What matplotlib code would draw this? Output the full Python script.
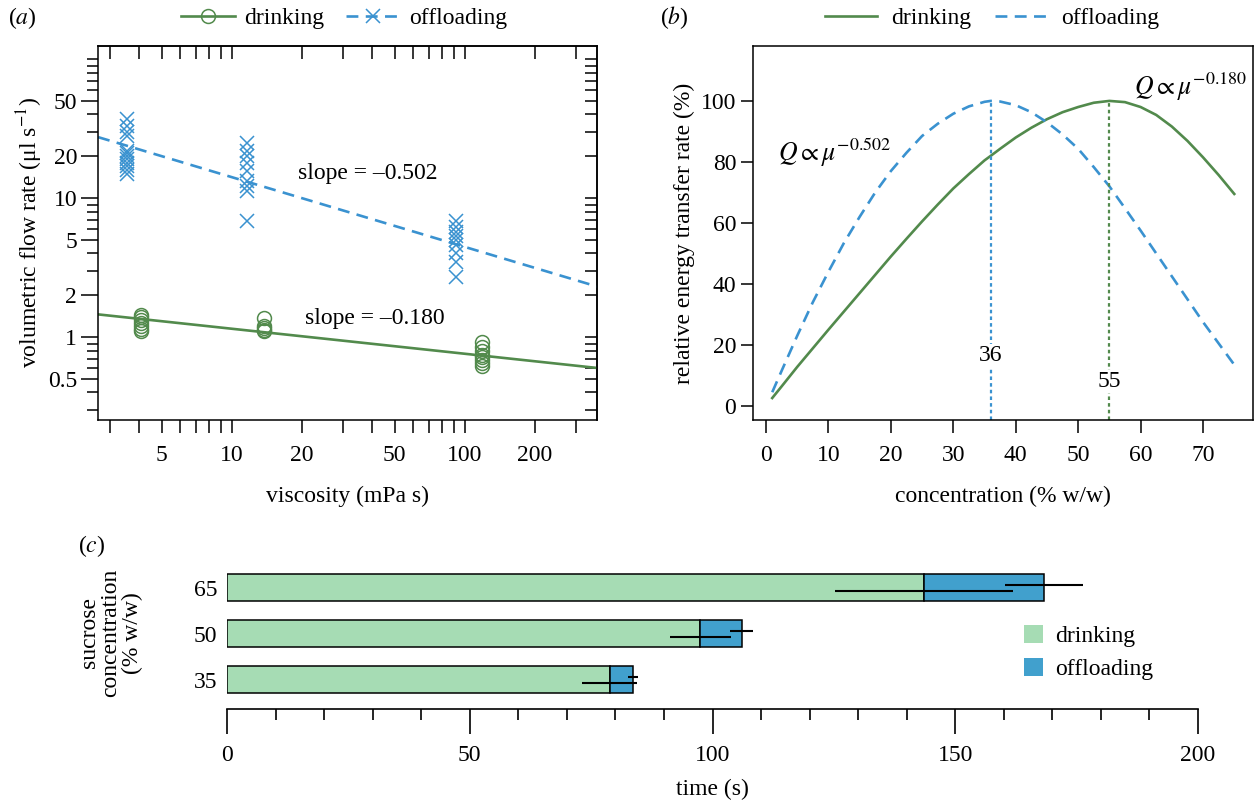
import matplotlib
matplotlib.use('Agg')
import numpy as np
import matplotlib.pyplot as plt
from matplotlib.ticker import FixedLocator, NullFormatter, FixedFormatter
from matplotlib.patches import Patch

plt.rcParams['font.family'] = ['Liberation Serif', 'DejaVu Serif']
plt.rcParams['mathtext.fontset'] = 'stix'
plt.rcParams['font.size'] = 17

# ---------------- data: panel (a) ----------------
off_visc = [3.56, 11.6, 91.8]
off_q_35 = [37, 33, 30, 28, 22, 21, 20, 19, 18, 17, 16, 15]
off_q_50 = [25, 21.8, 20, 17.9, 15.6, 13.2, 12.2, 11.2, 6.8]
off_q_65 = [6.8, 6.25, 5.75, 5.3, 5.0, 4.6, 4.0, 3.5, 2.72]
drk_visc = [4.06, 13.8, 118]
drk_q_35 = [1.45, 1.4, 1.33, 1.27, 1.2, 1.15, 1.1]
drk_q_50 = [1.38, 1.2, 1.17, 1.13, 1.1]
drk_q_65 = [0.93, 0.85, 0.8, 0.75, 0.72, 0.68, 0.65, 0.62]
fit_x = [2.67, 369]
off_fit = (45.0, -0.502)   # prefactor, slope
drk_fit = (1.74, -0.180)

# ---------------- data: panel (b) ----------------
conc = [1, 2.5, 5, 7.5, 10, 12.5, 15, 17.5, 20, 22.5, 25, 27.5, 30, 32.5, 35, 36,
        37.5, 40, 42.5, 45, 47.5, 50, 52.5, 55, 57.5, 60, 62.5, 65, 67.5, 70, 72.5, 75]
drink_rate = [2.6, 6.4, 12.8, 18.9, 25.0, 31.0, 37.0, 43.0, 49.0, 54.8, 60.5, 66.0,
              71.3, 76.0, 80.5, 82.0, 84.3, 88.0, 91.2, 94.0, 96.3, 98.0, 99.4, 100.0,
              99.6, 98.0, 95.4, 91.6, 86.9, 81.5, 75.7, 69.5]
off_rate = [4.5, 11.5, 23, 34, 44, 53.5, 62, 70, 77, 83, 88.5, 92.5, 95.8, 98.2, 99.7,
            100, 99.8, 98.6, 96.3, 93.0, 89.0, 84.3, 78.3, 72.0, 64.8, 57.5, 50.0, 42.5,
            35.0, 27.5, 20.5, 13.5]
opt_off = 36
opt_drk = 55

# ---------------- data: panel (c) ----------------
sucrose = ['35', '50', '65']
drink_time = [78.8, 97.5, 143.5]
drink_err = [5.7, 6.3, 18.3]
off_time = [4.8, 8.5, 24.8]
off_err = [1.05, 2.3, 8.1]

GREEN = '#528a4c'
BLUE = '#3a92d0'
LGREEN = '#a6dcb4'
LBLUE = '#41a0cd'

W, H = 1255, 800
fig = plt.figure(figsize=(12.55, 8), dpi=100)

def fx(px):
    return px / W

def fy(py):
    return 1 - py / H

# ================= panel (a) =================
axa = fig.add_axes([fx(98), fy(420), fx(597 - 98), (420 - 46) / H])
axa.set_xscale('log')
axa.set_yscale('log')
for v, q in zip(off_visc, [off_q_35, off_q_50, off_q_65]):
    axa.plot([v] * len(q), q, ls='none', marker='x', ms=10, mew=1.1, color=BLUE)
for v, q in zip(drk_visc, [drk_q_35, drk_q_50, drk_q_65]):
    axa.plot([v] * len(q), q, ls='none', marker='o', ms=10, mew=1.1, mfc='none', mec=GREEN)
fx_arr = np.array(fit_x)
axa.plot(fx_arr, off_fit[0] * fx_arr ** off_fit[1], color=BLUE, lw=1.9, dashes=(4.5, 2.8))
axa.plot(fx_arr, drk_fit[0] * fx_arr ** drk_fit[1], color=GREEN, lw=1.9)
axa.set_xlim(2.666, 369)
axa.set_ylim(0.2535, 124.4)

xmaj = [5, 10, 20, 50, 100, 200]
xmin = [3, 4, 6, 7, 8, 9, 30, 40, 60, 70, 80, 90, 300]
ymaj = [0.5, 1, 2, 5, 10, 20, 50]
ymin = [0.3, 0.4, 0.6, 0.7, 0.8, 0.9, 3, 4, 6, 7, 8, 9, 30, 40, 60, 70, 80, 90, 100]
axa.xaxis.set_major_locator(FixedLocator(xmaj))
axa.xaxis.set_major_formatter(FixedFormatter([str(v) for v in xmaj]))
axa.xaxis.set_minor_locator(FixedLocator(xmin))
axa.xaxis.set_minor_formatter(NullFormatter())
axa.yaxis.set_major_locator(FixedLocator(ymaj))
axa.yaxis.set_major_formatter(FixedFormatter(['0.5', '1', '2', '5', '10', '20', '50']))
axa.yaxis.set_minor_locator(FixedLocator(ymin))
axa.yaxis.set_minor_formatter(NullFormatter())
axa.tick_params(axis='x', which='both', direction='out', length=9, width=1.1, pad=9)
axa.tick_params(axis='y', which='major', direction='out', length=12, width=1.1, pad=3)
axa.tick_params(axis='y', which='minor', direction='out', length=8, width=1.1)
for s in axa.spines.values():
    s.set_linewidth(1.1)

secx = axa.secondary_xaxis('top')
secx.xaxis.set_major_locator(FixedLocator(xmaj + xmin))
secx.xaxis.set_minor_locator(FixedLocator([]))
secx.xaxis.set_major_formatter(NullFormatter())
secx.tick_params(which='both', direction='in', length=9, width=1.1)
secx.spines['top'].set_linewidth(1.1)
secy = axa.secondary_yaxis('right')
secy.yaxis.set_major_locator(FixedLocator(ymaj + ymin))
secy.yaxis.set_minor_locator(FixedLocator([]))
secy.yaxis.set_major_formatter(NullFormatter())
secy.tick_params(which='both', direction='in', length=9, width=1.1)
secy.spines['right'].set_linewidth(1.1)

axa.set_xlabel('viscosity (mPa s)', labelpad=14)
axa.set_ylabel('volumetric flow rate (μl s$^{-1}$)', labelpad=2)
axa.text(0.54, 0.66, 'slope = –0.502', transform=axa.transAxes, ha='center', va='center')
axa.text(0.555, 0.272, 'slope = –0.180', transform=axa.transAxes, ha='center', va='center')

h1, = axa.plot([], [], color=GREEN, lw=1.9, marker='o', ms=10, mfc='none', mew=1.1)
h2, = axa.plot([], [], color=BLUE, lw=1.9, dashes=(4.5, 2.8), marker='x', ms=10, mew=1.1)
fig.legend([h1, h2], ['drinking', 'offloading'], loc='center', ncol=2,
           bbox_to_anchor=(fx(344), fy(18)), frameon=False, handlelength=2.3,
           columnspacing=0.9, handletextpad=0.4, borderpad=0)

# ================= panel (b) =================
axb = fig.add_axes([fx(753), fy(420), fx(1253 - 753), (420 - 46) / H])
axb.plot(conc, drink_rate, color=GREEN, lw=1.9)
axb.plot(conc, off_rate, color=BLUE, lw=1.9, dashes=(4.5, 2.8))
axb.set_xlim(-2.08, 78.0)
axb.set_ylim(-4.6, 118)
axb.plot([opt_off, opt_off], [-4.6, 100], color=BLUE, lw=1.6, dashes=(1.6, 1.4))
axb.plot([opt_drk, opt_drk], [-4.6, 100], color=GREEN, lw=1.6, dashes=(1.6, 1.4))
axb.text(opt_off, 16.5, str(opt_off), ha='center', va='center',
         bbox=dict(facecolor='white', edgecolor='none', pad=1))
axb.text(opt_drk, 8.0, str(opt_drk), ha='center', va='center',
         bbox=dict(facecolor='white', edgecolor='none', pad=1))
axb.text(1.9, 83, r'$Q \propto \mu^{-0.502}$', ha='left', va='center', fontsize=18.5)
axb.text(59.0, 104.5, r'$Q \propto \mu^{-0.180}$', ha='left', va='center', fontsize=18.5)
axb.set_xticks([0, 10, 20, 30, 40, 50, 60, 70])
axb.set_yticks([0, 20, 40, 60, 80, 100])
axb.tick_params(direction='out', length=9, width=1.1)
axb.tick_params(axis='x', pad=9)
axb.tick_params(axis='y', pad=3)
for s in axb.spines.values():
    s.set_linewidth(1.1)
axb.set_xlabel('concentration (% w/w)', labelpad=14)
axb.set_ylabel('relative energy transfer rate (%)', labelpad=4)
g1, = axb.plot([], [], color=GREEN, lw=1.9)
g2, = axb.plot([], [], color=BLUE, lw=1.9, dashes=(4.5, 2.8))
fig.legend([g1, g2], ['drinking', 'offloading'], loc='center', ncol=2,
           bbox_to_anchor=(fx(992), fy(18)), frameon=False, handlelength=2.2,
           columnspacing=1.0, handletextpad=0.6, borderpad=0)

# ================= panel (c) =================
axc = fig.add_axes([fx(227), fy(709), fx(1198 - 227), (709 - 564.5) / H])
ypos = np.arange(len(sucrose))
bh = 0.587
axc.barh(ypos, drink_time, height=bh, color=LGREEN, edgecolor='black', lw=1.1)
axc.barh(ypos, off_time, left=drink_time, height=bh, color=LBLUE, edgecolor='black', lw=1.1)
totals = np.array(drink_time) + np.array(off_time)
axc.errorbar(drink_time, ypos - 0.065, xerr=drink_err, fmt='none', ecolor='black',
             elinewidth=1.5, capsize=0)
axc.errorbar(totals, ypos + 0.065, xerr=off_err, fmt='none', ecolor='black',
             elinewidth=1.5, capsize=0)
axc.set_xlim(0, 200)
axc.set_ylim(-0.64, 2.5)
axc.set_yticks(ypos)
axc.set_yticklabels(sucrose)
axc.tick_params(axis='y', length=0, pad=7)
axc.set_xticks([0, 50, 100, 150, 200])
axc.set_xticks(np.arange(0, 201, 10), minor=True)
axc.tick_params(axis='x', which='major', direction='out', length=18, width=1.2, pad=8)
axc.tick_params(axis='x', which='minor', direction='out', length=8, width=1.2)
for k in ['top', 'right', 'left']:
    axc.spines[k].set_visible(False)
axc.spines['bottom'].set_linewidth(1.2)
axc.set_xlabel('time (s)', labelpad=9)
axc.legend([Patch(facecolor=LGREEN, edgecolor='none'), Patch(facecolor=LBLUE, edgecolor='none')],
           ['drinking', 'offloading'], loc='upper left', bbox_to_anchor=(fx(1024), fy(625)),
           bbox_transform=fig.transFigure, frameon=False, handlelength=0.8, handleheight=0.8,
           handletextpad=0.5, labelspacing=0.45, borderpad=0, borderaxespad=0)
fig.text(fx(111), fy(633), 'sucrose\nconcentration\n(% w/w)', rotation=90, ha='center',
         va='center', linespacing=1.05, multialignment='center')

# panel labels
fig.text(fx(8), fy(18), '($a$)', ha='left', va='center')
fig.text(fx(660), fy(18), '($b$)', ha='left', va='center')
fig.text(fx(78), fy(546), '($c$)', ha='left', va='center')

fig.savefig('out.png', dpi=100)
